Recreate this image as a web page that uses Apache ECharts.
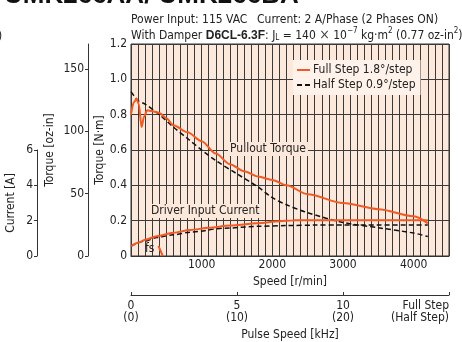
<!DOCTYPE html>
<html><head><meta charset="utf-8">
<script src="https://cdn.jsdelivr.net/npm/echarts@6/dist/echarts.min.js"></script>
<style>html,body{margin:0;padding:0;background:#fff}#c{width:462px;height:342px}</style>
</head><body><div id="c"></div>
<script>
// ---- data ----
const fullTorqueSpeed = [0, 40, 80, 110, 150, 185, 230, 300, 400, 500, 600, 800, 1000, 1200, 1400, 1600, 1800, 2000, 2200, 2500, 3000, 3500, 4000, 4200];
const fullTorque      = [0.80, 0.87, 0.89, 0.86, 0.73, 0.79, 0.825, 0.82, 0.81, 0.78, 0.74, 0.70, 0.65, 0.58, 0.52, 0.48, 0.45, 0.43, 0.40, 0.35, 0.30, 0.265, 0.225, 0.185];
const halfTorqueSpeed = [0, 100, 200, 400, 600, 800, 1000, 1200, 1500, 1800, 2000, 2200, 2500, 3000, 3500, 4000, 4200];
const halfTorque      = [0.93, 0.88, 0.86, 0.80, 0.73, 0.665, 0.60, 0.54, 0.465, 0.39, 0.33, 0.29, 0.245, 0.19, 0.16, 0.13, 0.11];
const fullCurrentSpeed = [0, 100, 200, 365, 600, 838, 1100, 1400, 1785, 2100, 2300, 2600, 3000, 3500, 4000, 4200];
const fullCurrent      = [0.55, 0.75, 0.92, 1.12, 1.32, 1.47, 1.60, 1.72, 1.85, 1.97, 2.02, 2.03, 2.03, 2.03, 2.03, 2.03];
const halfCurrentSpeed = [0, 200, 365, 600, 838, 1311, 1800, 2200, 2600, 3000, 3500, 4000, 4200];
const halfCurrent      = [0.55, 0.85, 1.05, 1.20, 1.35, 1.57, 1.68, 1.72, 1.75, 1.75, 1.75, 1.75, 1.75];
const fsSpeed  = [388, 450];
const fsTorque = [0.057, 0];
const speedTicks = [1000, 2000, 3000, 4000];
const ozTicks = [0, 50, 100, 150];
const currentTicks = [0, 2, 4, 6];
const pulseTicks = [0, 5, 10, 15];
const pulseLabels = ['0\n(0)', '5\n(10)', '10\n(20)', 'Full Step\n(Half Step)'];
const NM_PER_OZIN = 0.0070615518;
const FULL = 'Full Step 1.8°/step';
const HALF = 'Half Step 0.9°/step';

const zip = (xs, ys) => xs.map((x, i) => [x, ys[i]]);
const FONT = "'Liberation Sans Narrow','DejaVu Sans Condensed',Roboto,sans-serif";
const TXT = '#222';
const ORANGE = '#f15a22';
const PINK = '#fde8dc';
const GRIDC = '#3a3a3a';

const chart = echarts.init(document.getElementById('c'), null, {renderer: 'canvas'});
const lbl = {color: TXT, fontFamily: FONT, fontSize: 12};
chart.setOption({
  animation: false,
  textStyle: {fontFamily: FONT},
  grid: [
    {left: 131, top: 44, width: 318, height: 212, show: true, backgroundColor: PINK, borderColor: '#333', borderWidth: 1},
    {left: 37, top: 150, width: 10, height: 106},
    {left: 131, top: 294, width: 318, height: 1}
  ],
  xAxis: [
    {gridIndex: 0, type: 'value', min: 0, max: 4500, interval: 100,
     axisLine: {show: true, lineStyle: {color: '#333'}}, axisTick: {show: false},
     splitLine: {show: true, lineStyle: {color: GRIDC, width: 1}},
     axisLabel: Object.assign({margin: 3, formatter: v => speedTicks.includes(v) ? String(v) : ''}, lbl),
     name: 'Speed [r/min]', nameLocation: 'middle', nameGap: 18, nameTextStyle: lbl},
    {gridIndex: 1, type: 'value', show: false},
    {gridIndex: 2, type: 'value', min: 0, max: 15, interval: 5,
     axisLine: {show: true, lineStyle: {color: '#333'}},
     axisTick: {show: true, inside: true, length: 3, lineStyle: {color: '#333'}},
     splitLine: {show: false},
     axisLabel: Object.assign({margin: 5, lineHeight: 12, alignMaxLabel: 'right',
       formatter: v => { const i = pulseTicks.indexOf(v); return i >= 0 ? pulseLabels[i] : ''; }}, lbl),
     name: 'Pulse Speed [kHz]', nameLocation: 'middle', nameGap: 34, nameTextStyle: lbl}
  ],
  yAxis: [
    {gridIndex: 0, type: 'value', min: 0, max: 1.2, interval: 0.2,
     axisLine: {show: false}, axisTick: {show: false},
     splitLine: {show: true, lineStyle: {color: GRIDC, width: 1}},
     axisLabel: Object.assign({margin: 4, formatter: v => v === 0 ? '0' : v.toFixed(1)}, lbl),
     name: 'Torque [N·m]', nameLocation: 'middle', nameGap: 25, nameMoveOverlap: false, nameTextStyle: lbl},
    {gridIndex: 0, type: 'value', position: 'left', offset: 43, min: 0, max: 1.2 / NM_PER_OZIN,
     axisLine: {show: true, lineStyle: {color: '#333'}},
     axisTick: {show: true, length: 3, customValues: ozTicks, lineStyle: {color: '#333'}},
     splitLine: {show: false},
     axisLabel: Object.assign({margin: 4, customValues: ozTicks}, lbl),
     name: 'Torque [oz-in]', nameLocation: 'middle', nameGap: 32, nameMoveOverlap: false, nameTextStyle: lbl},
    {gridIndex: 0, type: 'value', show: false, min: 0, max: 12},
    {gridIndex: 1, type: 'value', position: 'left', min: 0, max: 6, interval: 2,
     axisLine: {show: true, lineStyle: {color: '#333'}},
     axisTick: {show: true, length: 3, lineStyle: {color: '#333'}},
     splitLine: {show: false},
     axisLabel: Object.assign({margin: 4}, lbl),
     name: 'Current [A]', nameLocation: 'middle', nameGap: 20, nameMoveOverlap: false, nameTextStyle: lbl},
    {gridIndex: 2, type: 'value', show: false}
  ],
  legend: {
    data: [FULL, HALF], orient: 'vertical', left: 293, top: 60,
    backgroundColor: '#fef2ea', padding: [4, 5, 4, 3], itemGap: 3, itemWidth: 13, itemHeight: 8,
    itemStyle: {opacity: 0},
    textStyle: Object.assign({padding: [0, 0, 0, -2]}, lbl)
  },
  series: [
    {name: FULL, type: 'line', xAxisIndex: 0, yAxisIndex: 0, data: zip(fullTorqueSpeed, fullTorque),
     symbol: 'none', smooth: 0.3, smoothMonotone: 'x', lineStyle: {color: ORANGE, width: 2}, itemStyle: {color: ORANGE}, z: 5},
    {name: HALF, type: 'line', xAxisIndex: 0, yAxisIndex: 0, data: zip(halfTorqueSpeed, halfTorque),
     symbol: 'none', smooth: 0.3, lineStyle: {color: '#111', width: 1.5, type: [5, 3]}, itemStyle: {color: '#111'}, z: 4},
    {name: FULL, type: 'line', xAxisIndex: 0, yAxisIndex: 2, data: zip(fullCurrentSpeed, fullCurrent),
     symbol: 'none', smooth: 0.3, smoothMonotone: 'x', lineStyle: {color: ORANGE, width: 2}, itemStyle: {color: ORANGE}, z: 5},
    {name: HALF, type: 'line', xAxisIndex: 0, yAxisIndex: 2, data: zip(halfCurrentSpeed, halfCurrent),
     symbol: 'none', smooth: 0.3, smoothMonotone: 'x', lineStyle: {color: '#111', width: 1.5, type: [5, 3]}, itemStyle: {color: '#111'}, z: 4},
    {name: FULL, type: 'line', xAxisIndex: 0, yAxisIndex: 0, data: zip(fsSpeed, fsTorque),
     symbol: 'none', lineStyle: {color: ORANGE, width: 2}, itemStyle: {color: ORANGE}, z: 5}
  ],
  graphic: [
    {type: 'text', left: 4, top: -17, z: 10,
     style: {text: 'UMK266AA/ UMK266BA', fill: '#111', font: "bold 26px 'Liberation Sans', Arial, sans-serif"}},
    {type: 'text', x: -2, y: 31, z: 10, style: {text: ')', fill: TXT, font: "12px " + FONT}},
    {type: 'text', x: 131, y: 14, z: 10, style: {text: 'Power Input: 115 VAC', fill: TXT, font: "12px " + FONT}},
    {type: 'text', x: 257, y: 14, z: 10, style: {text: 'Current: 2 A/Phase (2 Phases ON)', fill: TXT, font: "12px " + FONT}},
    {type: 'text', x: 131, y: 27, z: 10, style: {
      text: '{a|With Damper }{b|D6CL-6.3F}{a|: J}{s|L}{a| = 140 }{x|×}{a| 10}{p|−7}{a| kg·m}{p|2}{a| (0.77 oz-in}{p|2}{a|)}',
      fill: TXT, fontFamily: FONT, fontSize: 12,
      rich: {
        a: {fontFamily: FONT, fontSize: 12, fill: TXT, lineHeight: 15, verticalAlign: 'bottom'},
        b: {fontFamily: "'Liberation Sans', Arial, sans-serif", fontWeight: 'bold', fontSize: 12, fill: TXT, lineHeight: 15, verticalAlign: 'bottom'},
        x: {fontFamily: FONT, fontSize: 14, fill: '#444', lineHeight: 15, verticalAlign: 'bottom'},
        s: {fontFamily: FONT, fontSize: 8, fill: TXT, lineHeight: 8, verticalAlign: 'bottom'},
        p: {fontFamily: FONT, fontSize: 8, fill: TXT, lineHeight: 8, verticalAlign: 'top'}
      }}},
    {type: 'text', x: 228, y: 142, z: 1, style: {text: 'Pullout Torque', fill: TXT, font: "12px " + FONT,
      backgroundColor: PINK, padding: [1, 2, 1, 2]}},
    {type: 'text', x: 149, y: 204, z: 1, style: {text: 'Driver Input Current', fill: TXT, font: "12px " + FONT,
      backgroundColor: PINK, padding: [1, 2, 1, 2]}},
    {type: 'text', x: 145, y: 243, z: 6, style: {text: 'fs', fill: TXT, font: "12px " + FONT}}
  ]
});
</script></body></html>
